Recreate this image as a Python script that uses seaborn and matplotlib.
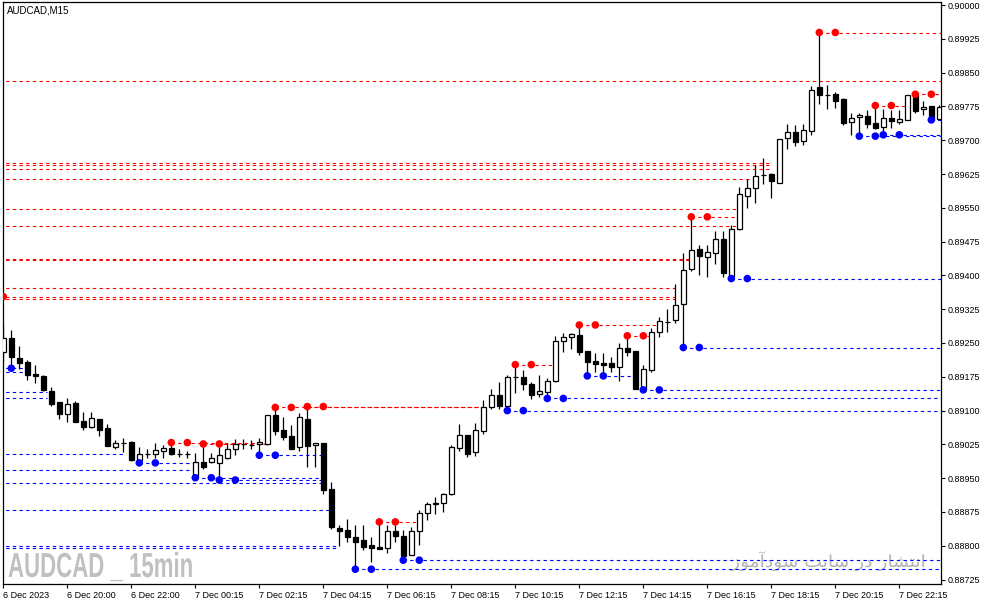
import matplotlib
matplotlib.use("Agg")
import matplotlib.pyplot as plt
from matplotlib.patheffects import AbstractPathEffect
from matplotlib.transforms import Affine2D
import numpy as np
import pandas as pd
import seaborn as sns

# ---------------- data (AUDCAD M15 candles) ----------------
opens = [0.89229, 0.89260, 0.89216, 0.89208, 0.89181, 0.89177, 0.89143, 0.89118, 0.89092, 0.89116,
         0.89077, 0.89064, 0.89081, 0.89061, 0.89020, 0.89029, 0.89030, 0.88990, 0.89004, 0.89003,
         0.89011, 0.89017, 0.89004, 0.89004, 0.88952, 0.88985, 0.88985, 0.88983, 0.88994, 0.89015,
         0.89025, 0.89024, 0.89025, 0.89025, 0.89090, 0.89057, 0.89044, 0.89019, 0.89081, 0.89023,
         0.89027, 0.88925, 0.88839, 0.88834, 0.88819, 0.88813, 0.88801, 0.88797, 0.88796, 0.88833,
         0.88822, 0.88779, 0.88833, 0.88872, 0.88893, 0.88894, 0.88915, 0.89016, 0.89045, 0.89009,
         0.89055, 0.89109, 0.89134, 0.89110, 0.89175, 0.89175, 0.89159, 0.89137, 0.89141, 0.89165,
         0.89255, 0.89263, 0.89268, 0.89232, 0.89210, 0.89206, 0.89205, 0.89197, 0.89238, 0.89232,
         0.89147, 0.89189, 0.89274, 0.89297, 0.89301, 0.89336, 0.89414, 0.89458, 0.89441, 0.89450,
         0.89480, 0.89399, 0.89502, 0.89577, 0.89595, 0.89623, 0.89625, 0.89606, 0.89704, 0.89718,
         0.89699, 0.89721, 0.89817, 0.89800, 0.89802, 0.89791, 0.89740, 0.89751, 0.89754, 0.89738,
         0.89729, 0.89750, 0.89741, 0.89745, 0.89801, 0.89769, 0.89776, 0.89746]
highs = [0.89290, 0.89279, 0.89243, 0.89212, 0.89201, 0.89178, 0.89152, 0.89120, 0.89127, 0.89122,
         0.89096, 0.89096, 0.89081, 0.89070, 0.89035, 0.89040, 0.89032, 0.89019, 0.89014, 0.89027,
         0.89023, 0.89029, 0.89014, 0.89011, 0.89007, 0.89026, 0.89005, 0.89020, 0.89028, 0.89036,
         0.89036, 0.89035, 0.89040, 0.89090, 0.89108, 0.89085, 0.89068, 0.89094, 0.89108, 0.89029,
         0.89027, 0.88941, 0.88846, 0.88859, 0.88846, 0.88846, 0.88819, 0.88853, 0.88846, 0.88846,
         0.88835, 0.88842, 0.88879, 0.88898, 0.88908, 0.88918, 0.89024, 0.89070, 0.89045, 0.89072,
         0.89123, 0.89148, 0.89163, 0.89179, 0.89202, 0.89190, 0.89163, 0.89179, 0.89172, 0.89266,
         0.89272, 0.89273, 0.89290, 0.89232, 0.89227, 0.89227, 0.89220, 0.89249, 0.89266, 0.89232,
         0.89201, 0.89283, 0.89308, 0.89325, 0.89382, 0.89449, 0.89530, 0.89467, 0.89467, 0.89499,
         0.89499, 0.89512, 0.89597, 0.89613, 0.89645, 0.89660, 0.89628, 0.89703, 0.89736, 0.89733,
         0.89737, 0.89820, 0.89939, 0.89822, 0.89808, 0.89793, 0.89760, 0.89761, 0.89767, 0.89777,
         0.89769, 0.89767, 0.89766, 0.89800, 0.89802, 0.89787, 0.89776, 0.89778]
lows = [0.89208, 0.89197, 0.89192, 0.89169, 0.89162, 0.89143, 0.89110, 0.89081, 0.89075, 0.89074,
        0.89058, 0.89062, 0.89044, 0.89022, 0.89015, 0.89009, 0.88988, 0.88984, 0.88994, 0.88995,
        0.88995, 0.89001, 0.88997, 0.88995, 0.88951, 0.88970, 0.88984, 0.88946, 0.88992, 0.89001,
        0.89014, 0.89014, 0.89001, 0.89024, 0.89046, 0.89035, 0.89015, 0.89011, 0.88974, 0.88975,
        0.88916, 0.88838, 0.88800, 0.88809, 0.88748, 0.88791, 0.88765, 0.88792, 0.88783, 0.88809,
        0.88768, 0.88779, 0.88802, 0.88857, 0.88870, 0.88874, 0.88913, 0.89011, 0.88998, 0.88999,
        0.89048, 0.89103, 0.89103, 0.89100, 0.89140, 0.89146, 0.89126, 0.89131, 0.89127, 0.89163,
        0.89231, 0.89236, 0.89223, 0.89177, 0.89186, 0.89186, 0.89186, 0.89166, 0.89221, 0.89148,
        0.89145, 0.89186, 0.89264, 0.89275, 0.89294, 0.89240, 0.89410, 0.89401, 0.89397, 0.89425,
        0.89396, 0.89393, 0.89501, 0.89550, 0.89560, 0.89603, 0.89572, 0.89604, 0.89680, 0.89687,
        0.89689, 0.89712, 0.89780, 0.89769, 0.89772, 0.89734, 0.89711, 0.89709, 0.89726, 0.89724,
        0.89712, 0.89726, 0.89736, 0.89745, 0.89761, 0.89756, 0.89745, 0.89746]
closes = [0.89260, 0.89218, 0.89206, 0.89180, 0.89177, 0.89145, 0.89115, 0.89093, 0.89114, 0.89075,
          0.89064, 0.89084, 0.89058, 0.89022, 0.89027, 0.89028, 0.88990, 0.89003, 0.89004, 0.89012,
          0.89017, 0.89003, 0.89004, 0.89004, 0.88985, 0.88975, 0.88995, 0.89001, 0.89015, 0.89026,
          0.89025, 0.89024, 0.89030, 0.89090, 0.89055, 0.89041, 0.89015, 0.89085, 0.89022, 0.89027,
          0.88924, 0.88841, 0.88833, 0.88820, 0.88809, 0.88797, 0.88796, 0.88793, 0.88833, 0.88822,
          0.88777, 0.88833, 0.88872, 0.88893, 0.88894, 0.88915, 0.89019, 0.89045, 0.89004, 0.89057,
          0.89107, 0.89134, 0.89110, 0.89174, 0.89175, 0.89159, 0.89135, 0.89143, 0.89165, 0.89255,
          0.89263, 0.89269, 0.89231, 0.89208, 0.89204, 0.89201, 0.89197, 0.89238, 0.89231, 0.89148,
          0.89192, 0.89274, 0.89298, 0.89297, 0.89334, 0.89411, 0.89456, 0.89444, 0.89451, 0.89480,
          0.89405, 0.89502, 0.89580, 0.89595, 0.89620, 0.89622, 0.89610, 0.89703, 0.89718, 0.89697,
          0.89722, 0.89811, 0.89801, 0.89800, 0.89788, 0.89739, 0.89749, 0.89756, 0.89736, 0.89726,
          0.89749, 0.89743, 0.89747, 0.89800, 0.89765, 0.89773, 0.89745, 0.89773]

# fractal highs / lows (bar index, price level)
up_fractal_idx = [-2, 21, 25, 34, 38, 47, 64, 72, 78, 86, 102, 109, 114]
up_fractal_lvl = [0.89353, 0.89029, 0.89026, 0.89107, 0.89109, 0.88853, 0.89202, 0.89290,
                  0.89266, 0.89530, 0.89939, 0.89777, 0.89802]
dn_fractal_idx = [-1, 17, 24, 27, 32, 44, 50, 63, 68, 73, 80, 85, 91, 107, 110, 116]
dn_fractal_lvl = [0.89194, 0.88984, 0.88951, 0.88946, 0.89001, 0.88748, 0.88768, 0.89100,
                  0.89127, 0.89177, 0.89146, 0.89240, 0.89393, 0.89709, 0.89712, 0.89745]

# level lines (price, first bar, last bar)
res_levels = [0.89353, 0.89348, 0.89372, 0.89437, 0.89435, 0.89509, 0.89547, 0.89615, 0.89636,
              0.89644, 0.89649, 0.89831, 0.89029, 0.89026, 0.89107, 0.89109, 0.88853, 0.89202,
              0.89290, 0.89266, 0.89530, 0.89939, 0.89777, 0.89802]
res_start = [-2, -1, -1, -1, -1, -1, -1, -1, -1, -1, -1, -1, 21, 25, 34, 38, 47, 64, 72, 78, 86, 102, 109, 114]
res_end = [84, 84, 84, 86, 86, 92, 92, 94, 96, 96, 96, 118, 33, 33, 60, 60, 52, 69, 82, 81, 92, 118, 113, 118]

sup_levels = [0.89194, 0.89186, 0.89141, 0.89127, 0.89003, 0.88984, 0.88968, 0.88951, 0.88946,
              0.88939, 0.89001, 0.88879, 0.88800, 0.88796, 0.88748, 0.88768, 0.89100, 0.89127,
              0.89177, 0.89146, 0.89240, 0.89393, 0.89709, 0.89712, 0.89745]
sup_start = [-1, -1, -1, -1, -1, 17, -1, 24, 27, -1, 32, -1, -1, -1, 44, 50, 63, 68, 73, 80, 85, 91, 107, 110, 116]
sup_end = [2.5, 2.5, 5.5, 5.5, 15, 24, 24, 40, 40, 40, 40, 41, 42, 42, 118, 118, 118, 118, 79, 118,
           118, 118, 118, 118, 118]

x_tick_labels = ["6 Dec 2023", "6 Dec 20:00", "6 Dec 22:00", "7 Dec 00:15", "7 Dec 02:15",
                 "7 Dec 04:15", "7 Dec 06:15", "7 Dec 08:15", "7 Dec 10:15", "7 Dec 12:15",
                 "7 Dec 14:15", "7 Dec 16:15", "7 Dec 18:15", "7 Dec 20:15", "7 Dec 22:15"]
y_ticks = [0.88725, 0.88800, 0.88875, 0.88950, 0.89025, 0.89100, 0.89175, 0.89250, 0.89325,
           0.89400, 0.89475, 0.89550, 0.89625, 0.89700, 0.89775, 0.89850, 0.89925, 0.90000]

title_text = "AUDCAD,M15"
watermark_left = "AUDCAD _ 15min"
watermark_right = "انتشار در سایت سودآموز"


# ---------- minimal Arabic-script shaping for matplotlib (no complex layout) ----------
FORMS = {
    'ا': (0xFE8D, 0xFE8E, None, None), 'آ': (0xFE81, 0xFE82, None, None),
    'ن': (0xFEE5, 0xFEE6, 0xFEE7, 0xFEE8), 'ت': (0xFE95, 0xFE96, 0xFE97, 0xFE98),
    'ش': (0xFEB5, 0xFEB6, 0xFEB7, 0xFEB8), 'ر': (0xFEAD, 0xFEAE, None, None),
    'د': (0xFEA9, 0xFEAA, None, None), 'س': (0xFEB1, 0xFEB2, 0xFEB3, 0xFEB4),
    'ی': (0xFEEF, 0xFEF0, 0xFEF3, 0xFEF4), 'و': (0xFEED, 0xFEEE, None, None),
    'م': (0xFEE1, 0xFEE2, 0xFEE3, 0xFEE4), 'ز': (0xFEAF, 0xFEB0, None, None),
}


def shape(text):
    out = []
    for k, ch in enumerate(text):
        if ch not in FORMS:
            out.append(ch)
            continue
        prev = text[k - 1] if k > 0 else None
        nxt = text[k + 1] if k + 1 < len(text) else None
        jp = prev in FORMS and FORMS[prev][2] is not None
        jn = nxt in FORMS and FORMS[ch][2] is not None
        iso, fin, ini, med = FORMS[ch]
        if jp and jn:
            cp = med
        elif jp:
            cp = fin
        elif jn:
            cp = ini
        else:
            cp = iso
        out.append(chr(cp))
    return "".join(reversed(out))


class HScale(AbstractPathEffect):
    """Horizontally scale glyph outlines around the text origin."""

    def __init__(self, sx):
        super().__init__()
        self.sx = sx

    def draw_path(self, renderer, gc, tpath, affine, rgbFace=None):
        renderer.draw_path(gc, tpath, Affine2D().scale(self.sx, 1.0) + affine, rgbFace)


# ---------------- figure ----------------
sns.set_style("white")
plt.rcParams['font.family'] = ['Liberation Sans', 'DejaVu Sans']

W, H = 987, 605
fig = plt.figure(figsize=(W / 100, H / 100), dpi=100)
ax = fig.add_axes([3 / W, (H - 584) / H, 938 / W, 582 / H])

o = np.array(opens)
c = np.array(closes)
hi = np.array(highs)
lo = np.array(lows)
idx = np.arange(len(o))

# watermarks (behind the chart marks)
fig.text(8 / W, 1 - 577 / H, watermark_left, fontsize=25, fontweight="bold",
         color="#c0c0c0", ha="left", va="baseline", zorder=0,
         path_effects=[HScale(0.64)])
fig.text(731 / W, 1 - 567 / H, shape(watermark_right), fontsize=12,
         family=["DejaVu Sans"], color="#b4b4b4", ha="left", va="baseline", zorder=0,
         path_effects=[HScale(1.12)])
ax.set_facecolor("none")
ax.set_zorder(1)

# level lines
dash = (0, (3, 3))
for lv, s, e in zip(res_levels, res_start, res_end):
    ax.plot([s, e], [lv, lv], color="#ff0000", ls=dash, lw=0.8, zorder=2)
for lv, s, e in zip(sup_levels, sup_start, sup_end):
    ax.plot([s, e], [lv, lv], color="#0000ff", ls=dash, lw=0.8, zorder=2)

# candles
ax.vlines(idx, lo, hi, color="black", lw=0.9, zorder=3)
body_col = np.where(c > o, "white", "black")
ax.bar(idx, np.abs(c - o), bottom=np.minimum(o, c), width=0.6, color=body_col,
       edgecolor="black", linewidth=0.9, zorder=4)

# fractal dots (at the fractal bar and two bars later)
rows = []
for i, lv in zip(up_fractal_idx, up_fractal_lvl):
    rows += [(i, lv, "up"), (i + 2, lv, "up")]
for i, lv in zip(dn_fractal_idx, dn_fractal_lvl):
    rows += [(i, lv, "down"), (i + 2, lv, "down")]
dots = pd.DataFrame(rows, columns=["bar", "price", "kind"])
sns.scatterplot(data=dots, x="bar", y="price", hue="kind",
                palette={"up": "#ff0000", "down": "#0000ff"}, s=30, linewidth=0,
                legend=False, ax=ax, zorder=5)

# axes
ax.set_xlim(-0.0375, 117.21)
ax.set_ylim(0.887152, 0.900067)
ax.set_xlabel("")
ax.set_ylabel("")
ax.set_xticks(np.arange(0, 8 * len(x_tick_labels), 8))
ax.set_xticklabels(x_tick_labels, ha="left")
ax.yaxis.tick_right()
ax.set_yticks(y_ticks)
ax.set_yticklabels([f"{v:.5f}" for v in y_ticks])
ax.tick_params(axis="x", bottom=True, top=False, length=3, width=0.8, pad=2,
               labelsize=6.5, colors="black", direction="out")
ax.tick_params(axis="y", right=True, left=False, labelright=True, labelleft=False,
               length=3, width=0.8, pad=1.5, labelsize=6.5, colors="black", direction="out")
for sp in ax.spines.values():
    sp.set_visible(True)
    sp.set_color("black")
    sp.set_linewidth(0.9)
ax.grid(False)

fig.text(7 / W, 1 - 10.5 / H, title_text, fontsize=7, color="black", ha="left", va="center")

fig.savefig("out.png", dpi=100, facecolor="white")
